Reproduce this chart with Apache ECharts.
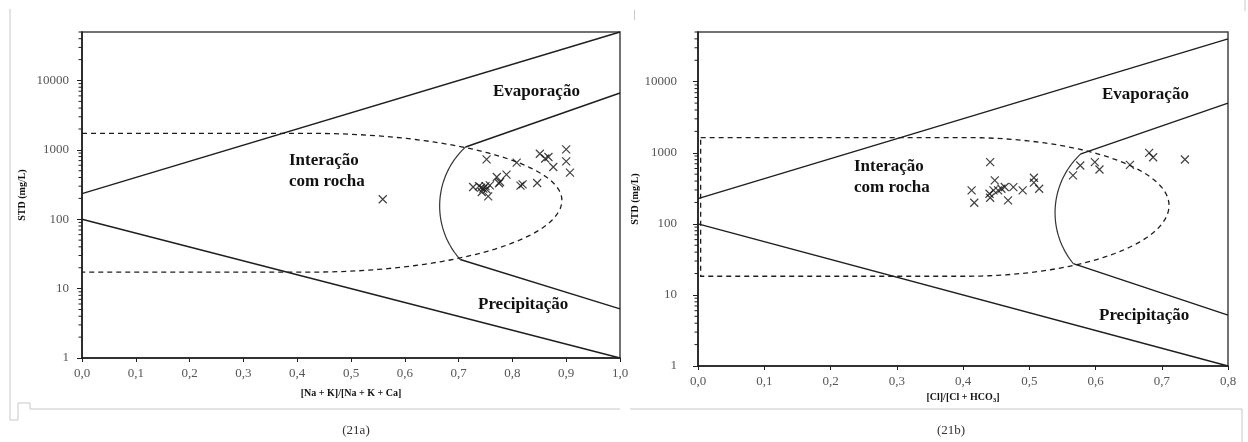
<!DOCTYPE html>
<html><head><meta charset="utf-8">
<script src="https://cdn.jsdelivr.net/npm/echarts@6/dist/echarts.min.js"></script>
<style>html,body{margin:0;padding:0;background:#fff}#c{width:1248px;height:442px}</style>
</head><body><div id="c"></div>
<script>
// ---------- tick labels ----------
const yTickLabels = ['1', '10', '100', '1000', '10000'];
const xTickLabelsA = ['0,0','0,1','0,2','0,3','0,4','0,5','0,6','0,7','0,8','0,9','1,0'];
const xTickLabelsB = ['0,0','0,1','0,2','0,3','0,4','0,5','0,6','0,7','0,8'];
const minorTickValues = [2,3,4,5,6,7,8,9,20,30,40,50,60,70,80,90,200,300,400,500,600,700,800,900,
  2000,3000,4000,5000,6000,7000,8000,9000,20000,30000,40000,50000];

// ---------- samples (21a): [Na+K]/[Na+K+Ca] vs STD ----------
const samplesA = [
  [0.559,194],[0.727,292],[0.738,300],[0.742,285],[0.746,276],[0.750,300],[0.752,270],
  [0.743,247],[0.755,214],[0.758,308],[0.752,730],[0.771,406],[0.777,344],[0.775,330],
  [0.789,440],[0.808,655],[0.815,305],[0.819,318],[0.846,333],[0.851,880],[0.867,790],
  [0.861,750],[0.876,566],[0.900,1016],[0.900,684],[0.907,470]
];
// ---------- samples (21b): [Cl]/[Cl+HCO3] vs STD ----------
const samplesB = [
  [0.413,295],[0.417,198],[0.441,737],[0.440,265],[0.441,233],[0.446,295],[0.448,408],
  [0.453,295],[0.458,312],[0.463,330],[0.468,214],[0.476,329],[0.490,295],[0.507,445],
  [0.507,380],[0.515,312],[0.566,480],[0.577,662],[0.599,737],[0.606,582],[0.652,677],
  [0.681,998],[0.687,866],[0.735,804]
];

// ---------- Gibbs boundary lines (21a) ----------
const upperLineA = [[0, 234], [1.0, 50000]];
const lowerLineA = [[0, 100], [1.0, 1]];
const evapLineA = [[0.713, 1100], [1.0, 6600]];
const precLineA = [[0.703, 26.3], [1.0, 5.1]];
const arcA = [[0.713, 1100], [0.665, 135], [0.703, 26.3]];
const rockZoneA = { x0: 0, cx: 0.424, xRight: 0.892, top: 1730, bottom: 17.3, center: 188 };

// ---------- Gibbs boundary lines (21b) ----------
const upperLineB = [[0, 226], [0.8, 40000]];
const lowerLineB = [[0, 100], [0.8, 1]];
const evapLineB = [[0.578, 967], [0.8, 5000]];
const precLineB = [[0.5665, 27.6], [0.8, 5.2]];
const arcB = [[0.578, 967], [0.539, 155], [0.5665, 27.6]];
const rockZoneB = { x0: 0.004, cx: 0.403, xRight: 0.711, top: 1637, bottom: 18.3, center: 182 };

const SERIF = "'Liberation Serif','Times New Roman',serif";
const INK = '#1e1e1e';

function ellipseRender(z, closed) {
  return function (params, api) {
    const pTop = api.coord([z.cx, z.top]);
    const pBot = api.coord([z.cx, z.bottom]);
    const pR = api.coord([z.xRight, z.center]);
    const s0 = api.coord([z.x0, z.top]);
    const s1 = api.coord([z.x0, z.bottom]);
    const cxp = pTop[0], rx = pR[0] - cxp, yc = pR[1];
    const ryT = yc - pTop[1], ryB = pBot[1] - yc;
    const pts = [s0, pTop];
    const N = 80;
    for (let i = 1; i < N; i++) {
      const t = -Math.PI / 2 + Math.PI * i / N;
      const s = Math.sin(t);
      pts.push([cxp + rx * Math.cos(t), yc + s * (s < 0 ? ryT : ryB)]);
    }
    pts.push(pBot, s1);
    if (closed) pts.push(s0);
    return { type: 'polyline', shape: { points: pts },
      style: { fill: 'none', stroke: INK, lineWidth: 1.3, lineDash: [5, 4] } };
  };
}
function arcRender(three) {
  return function (params, api) {
    const [a, b, c] = three.map(p => api.coord(p));
    const A2 = a[0]*a[0]+a[1]*a[1], B2 = b[0]*b[0]+b[1]*b[1], C2 = c[0]*c[0]+c[1]*c[1];
    const d = 2 * (a[0]*(b[1]-c[1]) + b[0]*(c[1]-a[1]) + c[0]*(a[1]-b[1]));
    const ux = (A2*(b[1]-c[1]) + B2*(c[1]-a[1]) + C2*(a[1]-b[1])) / d;
    const uy = (A2*(c[0]-b[0]) + B2*(a[0]-c[0]) + C2*(b[0]-a[0])) / d;
    const r = Math.hypot(a[0]-ux, a[1]-uy);
    const TWO = Math.PI * 2;
    const norm = x => { while (x < 0) x += TWO; while (x >= TWO) x -= TWO; return x; };
    const aA = Math.atan2(a[1]-uy, a[0]-ux), aB = Math.atan2(b[1]-uy, b[0]-ux), aC = Math.atan2(c[1]-uy, c[0]-ux);
    const dAC = norm(aC - aA), dAB = norm(aB - aA);
    const sweep = dAB < dAC ? dAC : -(TWO - dAC);
    const pts = [];
    const N = 60;
    for (let i = 0; i <= N; i++) {
      const t = aA + sweep * i / N;
      pts.push([ux + r * Math.cos(t), uy + r * Math.sin(t)]);
    }
    return { type: 'polyline', shape: { points: pts },
      style: { fill: 'none', stroke: '#333', lineWidth: 1.2 } };
  };
}
function minorTickRender(params, api) {
  const p = api.coord([api.value(0), api.value(1)]);
  return { type: 'line', shape: { x1: p[0] - 3.5, y1: p[1], x2: p[0], y2: p[1] },
    style: { stroke: INK, lineWidth: 1 } };
}

function lineSeries(data, idx) {
  return { type: 'line', data: data, xAxisIndex: idx, yAxisIndex: idx, showSymbol: false, symbol: 'none',
    silent: true, clip: false, lineStyle: { color: INK, width: 1.4 }, z: 3 };
}
function scatterSeries(data, idx) {
  return { type: 'scatter', data: data, xAxisIndex: idx, yAxisIndex: idx,
    symbol: 'path://M0,0L10,10M10,0L0,10', symbolSize: 8,
    itemStyle: { color: 'rgba(0,0,0,0)', borderColor: '#111', borderWidth: 1.2 }, z: 5 };
}
function customSeries(render, idx, data) {
  return { type: 'custom', xAxisIndex: idx, yAxisIndex: idx, data: data || [[0, 1]],
    renderItem: render, silent: true, clip: false, z: 4 };
}

function xAxis(idx, max, labels, name, gap) {
  return {
    type: 'value', gridIndex: idx, min: 0, max: max, interval: 0.1,
    axisLine: { show: true, onZero: false, lineStyle: { color: INK, width: 1.6 } },
    axisTick: { show: true, length: 4, lineStyle: { color: INK, width: 1 } },
    axisLabel: { color: '#555', fontFamily: SERIF, fontSize: 13, margin: 9,
      formatter: v => labels[Math.round(v * 10)] || '' },
    splitLine: { show: false },
    name: name, nameLocation: 'middle', nameGap: gap,
    nameTextStyle: { fontFamily: SERIF, fontWeight: 'bold', fontSize: 10, color: '#111',
      rich: { sub: { fontFamily: SERIF, fontWeight: 'bold', fontSize: 7, verticalAlign: 'bottom', padding: [4, 0, 0, 0] } } }
  };
}
function yAxis(idx, margin, gap) {
  return {
    type: 'log', logBase: 10, gridIndex: idx, min: 1, max: 50000,
    axisLine: { show: true, onZero: false, lineStyle: { color: INK, width: 1.6 } },
    axisTick: { show: true, length: 5, lineStyle: { color: INK, width: 1 } },
    axisLabel: { color: '#555', fontFamily: SERIF, fontSize: 13, margin: margin, showMaxLabel: false,
      formatter: v => { const k = Math.log10(v); return Math.abs(k - Math.round(k)) < 1e-6 ? (yTickLabels[Math.round(k)] || '') : ''; } },
    splitLine: { show: false }, minorTick: { show: false },
    name: 'STD (mg/L)', nameLocation: 'middle', nameGap: gap, nameRotate: 90,
    nameTextStyle: { fontFamily: SERIF, fontWeight: 'bold', fontSize: 10, color: '#111' }
  };
}

function regionText(x, y, txt, lh) {
  return { type: 'text', x: x, y: y, silent: true,
    style: { text: txt, fontFamily: SERIF, fontWeight: 'bold', fontSize: 17, fill: '#111',
      textAlign: 'left', textVerticalAlign: 'middle', lineHeight: lh || 21 } };
}
function greyLine(x1, y1, x2, y2) {
  return { type: 'line', silent: true, shape: { x1, y1, x2, y2 }, style: { stroke: '#c8c8c8', lineWidth: 1 } };
}

const chart = echarts.init(document.getElementById('c'), null, { renderer: 'canvas' });
chart.setOption({
  animation: false,
  backgroundColor: '#fff',
  grid: [
    { left: 82, right: 628, top: 32, bottom: 84, show: true, borderColor: '#444', borderWidth: 1.5, backgroundColor: 'transparent' },
    { left: 698, right: 20, top: 32, bottom: 76, show: true, borderColor: '#444', borderWidth: 1.5, backgroundColor: 'transparent' }
  ],
  xAxis: [
    xAxis(0, 1.0, xTickLabelsA, '[Na + K]/[Na + K + Ca]', 30),
    xAxis(1, 0.8, xTickLabelsB, '[Cl]/[Cl + HCO{sub|3}]', 24)
  ],
  yAxis: [ yAxis(0, 13, 55), yAxis(1, 21, 50) ],
  series: [
    lineSeries(upperLineA, 0), lineSeries(lowerLineA, 0), lineSeries(evapLineA, 0), lineSeries(precLineA, 0),
    customSeries(arcRender(arcA), 0),
    customSeries(ellipseRender(rockZoneA, false), 0),
    customSeries(minorTickRender, 0, minorTickValues.map(v => [0, v])),
    scatterSeries(samplesA, 0),
    lineSeries(upperLineB, 1), lineSeries(lowerLineB, 1), lineSeries(evapLineB, 1), lineSeries(precLineB, 1),
    customSeries(arcRender(arcB), 1),
    customSeries(ellipseRender(rockZoneB, true), 1),
    customSeries(minorTickRender, 1, minorTickValues.map(v => [0, v])),
    scatterSeries(samplesB, 1)
  ],
  graphic: [
    regionText(493, 92, 'Evaporação'),
    regionText(289, 171, 'Interação\ncom rocha'),
    regionText(478, 305, 'Precipitação'),
    regionText(1102, 95, 'Evaporação'),
    regionText(854, 177, 'Interação\ncom rocha'),
    regionText(1099, 316, 'Precipitação'),
    { type: 'text', x: 356, y: 431, silent: true,
      style: { text: '(21a)', fontFamily: SERIF, fontSize: 13, fill: '#333', textAlign: 'center', textVerticalAlign: 'middle' } },
    { type: 'text', x: 951, y: 431, silent: true,
      style: { text: '(21b)', fontFamily: SERIF, fontSize: 13, fill: '#333', textAlign: 'center', textVerticalAlign: 'middle' } },
    greyLine(10, 9, 10, 420), greyLine(10, 420, 18, 420), greyLine(18, 403, 18, 420),
    greyLine(18, 403, 30, 403), greyLine(30, 403, 30, 409), greyLine(30, 409, 620, 409),
    greyLine(630, 409, 1242, 409), greyLine(1242, 409, 1242, 442),
    greyLine(634.5, 10, 634.5, 20), greyLine(1245, 0, 1245, 11)
  ]
});
</script>
</body></html>
